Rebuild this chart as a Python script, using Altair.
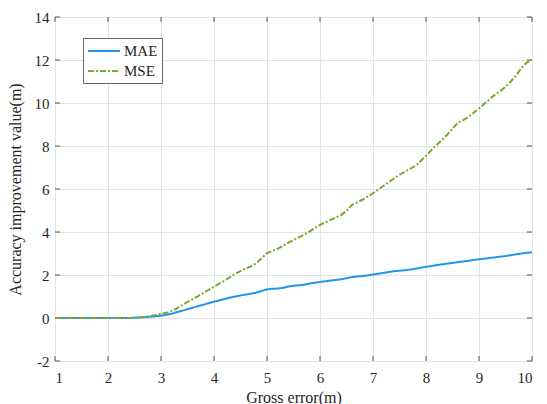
import altair as alt
import pandas as pd

# Gross error (m), sampled every 0.1 m
gross_error = [round(1 + 0.1 * i, 1) for i in range(91)]

mae = [0.0] * 14 + [
    0.00, 0.01, 0.02, 0.04, 0.06, 0.08, 0.11, 0.15, 0.20, 0.27,
    0.34, 0.41, 0.48, 0.55, 0.62, 0.69, 0.76, 0.82, 0.88, 0.95,
    1.00, 1.05, 1.09, 1.13, 1.18, 1.26, 1.33, 1.36, 1.37, 1.40,
    1.46, 1.50, 1.52, 1.55, 1.60, 1.64, 1.68, 1.71, 1.74, 1.77,
    1.80, 1.85, 1.90, 1.93, 1.95, 1.98, 2.02, 2.06, 2.10, 2.14,
    2.18, 2.20, 2.22, 2.25, 2.29, 2.34, 2.38, 2.42, 2.46, 2.49,
    2.53, 2.56, 2.60, 2.63, 2.66, 2.70, 2.73, 2.76, 2.79, 2.82,
    2.85, 2.88, 2.92, 2.96, 3.00, 3.03, 3.05,
]

mse = [0.0] * 14 + [
    0.00, 0.01, 0.03, 0.05, 0.09, 0.14, 0.20, 0.24, 0.32, 0.45,
    0.60, 0.75, 0.88, 1.02, 1.17, 1.31, 1.46, 1.60, 1.74, 1.90,
    2.06, 2.18, 2.30, 2.40, 2.55, 2.78, 3.02, 3.12, 3.22, 3.35,
    3.50, 3.62, 3.75, 3.88, 4.02, 4.18, 4.33, 4.45, 4.56, 4.68,
    4.80, 4.98, 5.25, 5.38, 5.50, 5.64, 5.80, 5.98, 6.15, 6.33,
    6.50, 6.66, 6.80, 6.94, 7.08, 7.30, 7.55, 7.80, 8.05, 8.28,
    8.52, 8.80, 9.08, 9.20, 9.35, 9.55, 9.75, 9.96, 10.18, 10.38,
    10.55, 10.76, 11.00, 11.28, 11.62, 11.88, 12.00,
]

series_names = ["MAE", "MSE"]
series_colors = ["#1f96ee", "#76a92c"]
series_dashes = [[1, 0], [6, 2, 2, 2]]

x_ticks = list(range(1, 11))
y_ticks = list(range(-2, 15, 2))

FONT = "Liberation Serif"

rows = []
for name, vals in zip(series_names, [mae, mse]):
    for gx, v in zip(gross_error, vals):
        rows.append({"x": gx, "value": v, "series": name})
df = pd.DataFrame(rows)

x_scale = alt.Scale(domain=[1, 10], nice=False)
y_scale = alt.Scale(domain=[-2, 14], nice=False)

axis_common = dict(
    labelFont=FONT, labelFontSize=15, labelColor="#262626",
    labelExpr="datum.value",
    titleFont=FONT, titleFontSize=16, titleColor="#262626", titleFontWeight="normal",
    grid=True, gridColor="#e3e3e3", gridWidth=1,
    domain=False, ticks=False,
)

lines = alt.Chart(df).mark_line(strokeWidth=2).encode(
    x=alt.X("x:Q", scale=x_scale,
            axis=alt.Axis(values=x_ticks, title="Gross error(m)", labelPadding=9,
                          titlePadding=4, **axis_common)),
    y=alt.Y("value:Q", scale=y_scale,
            axis=alt.Axis(values=y_ticks, title="Accuracy improvement value(m)",
                          labelPadding=6, titlePadding=11, **axis_common)),
    color=alt.Color("series:N",
                    scale=alt.Scale(domain=series_names, range=series_colors),
                    legend=alt.Legend(
                        title=None, orient="none", legendX=28, legendY=21,
                        symbolType="M-2,0H2", symbolSize=256, symbolStrokeWidth=2,
                        symbolOffset=8, labelOffset=11,
                        labelFont=FONT, labelFontSize=15, labelColor="#262626",
                        fillColor="white", strokeColor="#666", padding=4,
                        rowPadding=3, cornerRadius=0)),
    strokeDash=alt.StrokeDash("series:N",
                              scale=alt.Scale(domain=series_names, range=series_dashes),
                              legend=None),
    order="x:Q",
)

# Inward tick marks on all four sides of the box
tick_rows = []
for t in x_ticks:
    tick_rows.append({"x": t, "x2": t, "y": -2, "y2": -1.77})
    tick_rows.append({"x": t, "x2": t, "y": 14, "y2": 13.77})
for t in y_ticks:
    tick_rows.append({"x": 1, "x2": 1.095, "y": t, "y2": t})
    tick_rows.append({"x": 10, "x2": 9.905, "y": t, "y2": t})
ticks = alt.Chart(pd.DataFrame(tick_rows)).mark_rule(color="#555", strokeWidth=1).encode(
    x=alt.X("x:Q", scale=x_scale), x2="x2:Q",
    y=alt.Y("y:Q", scale=y_scale), y2="y2:Q",
)

chart = alt.layer(ticks, lines).properties(
    width=477, height=344,
    autosize=alt.AutoSizeParams(type="none"),
    padding={"left": 55, "top": 17, "right": 15, "bottom": 43},
).configure_view(stroke="#555", strokeWidth=1).configure(background="white")

chart.save("out.html", embed_options={"renderer": "svg", "actions": False})
